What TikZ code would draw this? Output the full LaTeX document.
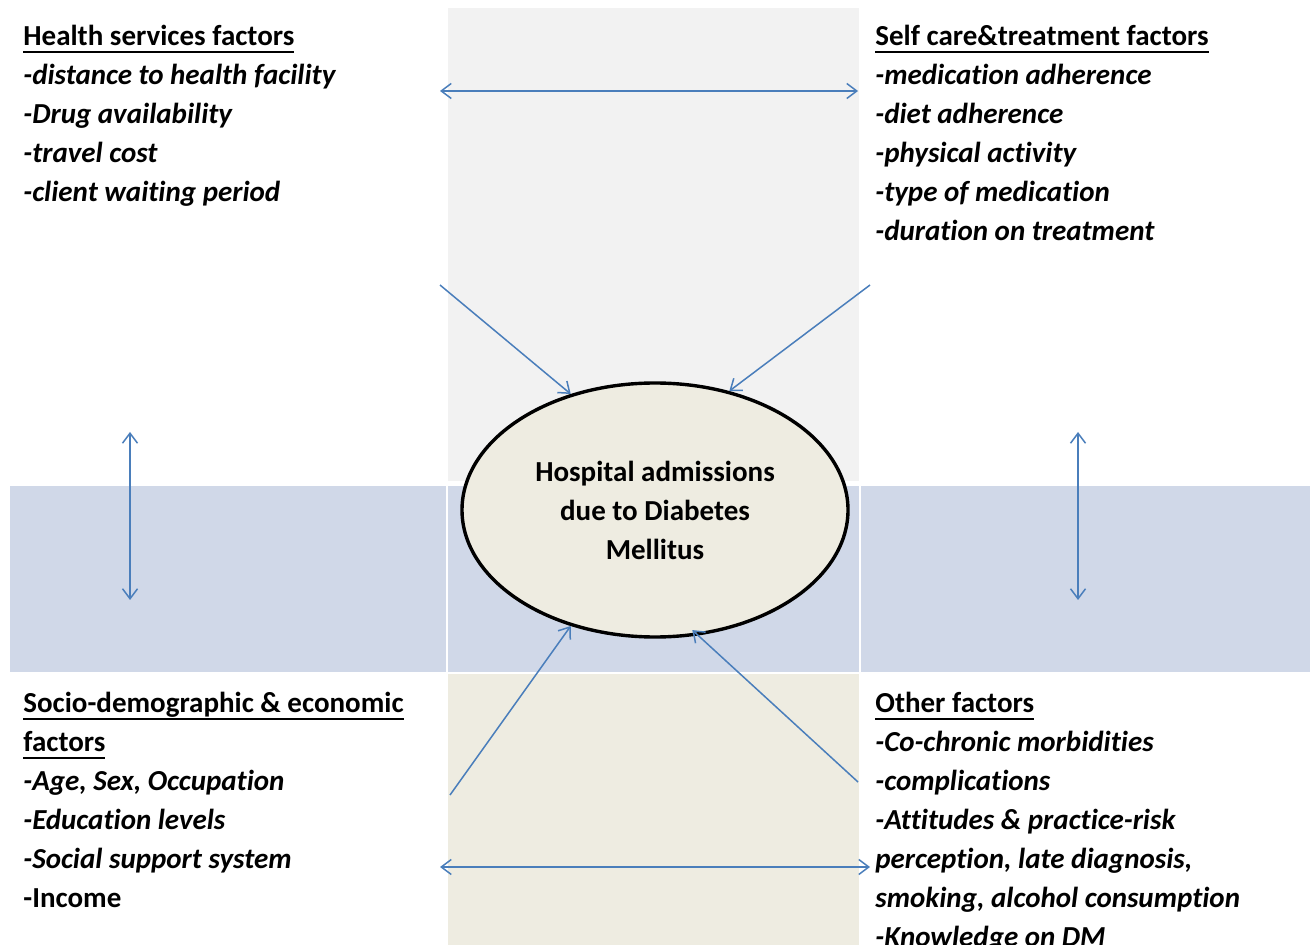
\documentclass[tikz,border=0pt]{standalone}
\usepackage{fontspec}
\setmainfont{Carlito}[Ligatures=NoCommon]
\usetikzlibrary{arrows.meta,shapes.geometric}

\definecolor{linkblue}{HTML}{4A7EBB}
\definecolor{cellgray}{HTML}{F2F2F2}
\definecolor{cellblue}{HTML}{D0D8E8}
\definecolor{celltan}{HTML}{EEECE1}
\newcommand{\factorfont}{\fontsize{14.5}{19.5}\selectfont\bfseries}
\newcommand{\uln}[1]{\setbox0\hbox{#1}\rlap{\rule[-3.5pt]{\wd0}{1pt}}\box0}

\begin{document}
\begin{tikzpicture}[x=0.5pt, y=-0.5pt,
		>={Straight Barb[length=5pt, width=7.5pt]},
		link/.style={draw=linkblue, line width=0.75pt},
		factor/.style={anchor=north west, align=left, inner sep=0pt, font=\factorfont}]
		\useasboundingbox (0,0) rectangle (1311,945);

		% table cells
		\fill[cellgray] (448,8) rectangle (859,481);
		\fill[cellblue] (10,486) rectangle (446,672);
		\fill[cellblue] (448,486) rectangle (859,672);
		\fill[cellblue] (861,486) rectangle (1310,672);
		\fill[celltan] (448,674) rectangle (859,945);

		\path (655,510) node[ellipse, draw, fill=celltan, line width=1.7pt, minimum width=193pt, minimum height=127pt, inner sep=0pt, align=center, font=\factorfont] (adm) {Hospital admissions\\due to Diabetes\\Mellitus}
			(23,25) node[factor] (hs) {\uln{Health services factors}\\\textit{-distance to health facility}\\\textit{-Drug availability}\\\textit{-travel cost}\\\textit{-client waiting period}}
			(875,25) node[factor] (sc) {\uln{Self care\&treatment factors}\\\textit{-medication adherence}\\\textit{-diet adherence}\\\textit{-physical activity}\\\textit{-type of medication}\\\textit{-duration on treatment}}
			(23,692) node[factor] (sd) {\uln{Socio-demographic \& economic}\\\uln{factors}\\\textit{-Age, Sex, Occupation}\\\textit{-Education levels}\\\textit{-Social support system}\\-Income}
			(875,692) node[factor] (ot) {\uln{Other factors}\\\textit{-Co-chronic morbidities}\\\textit{-complications}\\\textit{-Attitudes \& practice-risk}\\\textit{perception, late diagnosis,}\\\textit{smoking, alcohol consumption}\\\textit{-Knowledge on DM}};

		\coordinate (hsR) at (440,91);
		\coordinate (scL) at (858,91);
		\coordinate (hsC) at (440,285);
		\coordinate (scC) at (870,285);
		\coordinate (sdC) at (450,795);
		\coordinate (otC) at (858,782);
		\coordinate (hsD) at (130,432);
		\coordinate (sdU) at (130,600);
		\coordinate (scD) at (1078,432);
		\coordinate (otU) at (1078,600);
		\coordinate (sdR) at (440,867);
		\coordinate (otL) at (870,867);

		\draw[link, <->] (hsR) -- (scL);
		\draw[link, <->] (sdR) -- (otL);
		\draw[link, <->] (hsD) -- (sdU);
		\draw[link, <->] (scD) -- (otU);
		\draw[link, ->] (hsC) -- (adm.126);
		\draw[link, ->] (scC) -- (adm.58);
		\draw[link, ->] (sdC) -- (adm.234);
		\draw[link, ->, shorten >=-4pt] (otC) -- (adm.289);
	\end{tikzpicture}
\end{document}
